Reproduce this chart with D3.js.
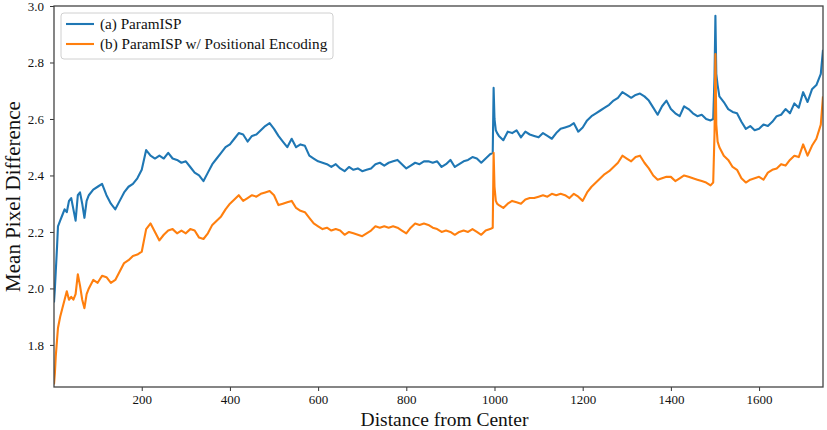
<!DOCTYPE html>
<html>
<head>
<meta charset="utf-8">
<script src="https://cdn.jsdelivr.net/npm/d3@7"></script>
<style>
  html, body { margin: 0; padding: 0; background: #fff; }
  svg { display: block; }
</style>
</head>
<body>
<svg id="chart" width="827" height="430"></svg>
<script>
// ---------- data ----------
const seriesNames = ["(a) ParamISP", "(b) ParamISP w/ Positional Encoding"];
const seriesColors = ["#1f77b4", "#ff7f0e"];

const distance = [
  1,3,5,8,10,15,20,25,30,35,40,45,50,55,60,65,70,75,
  80,90,100,110,120,130,140,150,160,170,180,190,
  200,210,220,230,240,250,260,270,280,290,
  300,310,320,330,340,350,360,370,380,390,
  400,410,420,430,440,450,460,470,480,490,
  500,510,520,530,540,550,560,570,580,590,
  600,610,620,630,640,650,660,670,680,690,
  700,710,720,730,740,750,760,770,780,790,
  800,810,820,830,840,850,860,870,880,890,
  900,910,920,930,940,950,960,970,980,990,
  996,998,1000,1003,1006,
  1010,1020,1030,1040,1050,1060,1070,1080,1090,
  1100,1110,1120,1130,1140,1150,1160,1170,1180,1190,
  1200,1210,1220,1230,1240,1250,1260,1270,1280,1290,
  1300,1310,1320,1330,1340,1350,1360,1370,1380,1390,
  1400,1410,1420,1430,1440,1450,1460,1470,1480,1490,
  1496,1499,1501,1503,1506,
  1510,1520,1530,1540,1550,1560,1570,1580,1590,1600,
  1610,1620,1630,1640,1650,1660,1670,1680,1690,1700,
  1710,1720,1730,1740,1745
];

const paramISP = [
  1.95,2.00,2.06,2.15,2.22,2.24,2.26,2.28,2.27,2.31,2.32,2.28,2.24,2.33,2.34,2.30,2.25,2.31,
  2.33,2.35,2.36,2.37,2.33,2.30,2.28,2.31,2.34,2.36,2.37,2.39,
  2.42,2.49,2.47,2.46,2.47,2.46,2.48,2.46,2.455,2.445,
  2.45,2.43,2.41,2.40,2.38,2.41,2.44,2.46,2.48,2.50,
  2.51,2.53,2.55,2.545,2.52,2.54,2.545,2.56,2.575,2.585,
  2.565,2.54,2.52,2.50,2.53,2.50,2.51,2.505,2.47,2.46,
  2.45,2.445,2.44,2.43,2.44,2.425,2.415,2.43,2.42,2.425,
  2.415,2.42,2.425,2.44,2.445,2.435,2.445,2.45,2.455,2.44,
  2.425,2.435,2.445,2.44,2.45,2.45,2.445,2.45,2.43,2.44,
  2.455,2.43,2.44,2.45,2.455,2.465,2.46,2.445,2.46,2.475,
  2.48,2.71,2.60,2.56,2.55,
  2.54,2.525,2.555,2.55,2.56,2.535,2.555,2.545,2.54,
  2.535,2.55,2.54,2.53,2.55,2.565,2.57,2.575,2.585,2.555,
  2.57,2.595,2.61,2.62,2.63,2.64,2.65,2.665,2.675,2.695,
  2.685,2.675,2.685,2.69,2.68,2.665,2.64,2.615,2.645,2.665,
  2.635,2.62,2.61,2.645,2.635,2.62,2.61,2.615,2.60,2.595,
  2.60,2.75,2.965,2.76,2.72,
  2.68,2.66,2.635,2.625,2.62,2.59,2.565,2.575,2.56,2.565,
  2.58,2.575,2.59,2.61,2.615,2.635,2.62,2.655,2.64,2.695,
  2.66,2.705,2.72,2.76,2.845
];

const paramISPPosEnc = [
  1.66,1.70,1.76,1.82,1.86,1.90,1.93,1.96,1.99,1.96,1.97,1.96,1.98,2.05,2.01,1.96,1.93,1.98,
  2.00,2.03,2.02,2.045,2.04,2.02,2.03,2.06,2.09,2.10,2.115,2.12,
  2.13,2.21,2.23,2.20,2.17,2.19,2.205,2.21,2.195,2.205,
  2.195,2.21,2.205,2.18,2.175,2.195,2.225,2.24,2.255,2.28,
  2.30,2.315,2.33,2.31,2.32,2.33,2.325,2.335,2.34,2.345,
  2.33,2.295,2.30,2.305,2.31,2.285,2.275,2.27,2.25,2.23,
  2.22,2.21,2.215,2.205,2.21,2.205,2.19,2.20,2.195,2.19,
  2.185,2.195,2.205,2.22,2.215,2.22,2.215,2.22,2.215,2.205,
  2.195,2.215,2.23,2.225,2.23,2.225,2.215,2.21,2.20,2.205,
  2.20,2.19,2.20,2.205,2.20,2.21,2.20,2.19,2.205,2.21,
  2.215,2.48,2.36,2.31,2.30,
  2.295,2.285,2.30,2.31,2.305,2.30,2.315,2.32,2.32,
  2.325,2.33,2.325,2.335,2.33,2.335,2.33,2.32,2.335,2.325,
  2.31,2.34,2.36,2.375,2.39,2.405,2.415,2.43,2.445,2.47,
  2.46,2.45,2.465,2.47,2.445,2.425,2.40,2.385,2.39,2.395,
  2.395,2.38,2.39,2.40,2.395,2.39,2.385,2.38,2.375,2.365,
  2.375,2.55,2.83,2.58,2.52,
  2.50,2.47,2.455,2.43,2.42,2.39,2.375,2.385,2.39,2.395,
  2.385,2.41,2.42,2.425,2.44,2.435,2.455,2.47,2.465,2.51,
  2.47,2.505,2.53,2.58,2.68
];

const xTickValues = [200, 400, 600, 800, 1000, 1200, 1400, 1600];
const yTickValues = [1.8, 2.0, 2.2, 2.4, 2.6, 2.8, 3.0];
const xLabel = "Distance from Center";
const yLabel = "Mean Pixel Difference";

// ---------- layout ----------
const svg = d3.select("#chart");
const plot = { left: 54, right: 823, top: 6, bottom: 387 };
const fontFamily = "'Liberation Serif', 'Times New Roman', serif";

const x = d3.scaleLinear().domain([1, 1745]).range([plot.left, plot.right]);
const y = d3.scaleLinear().domain([1.651, 3.0]).range([plot.bottom, plot.top]);

// lines
const allSeries = [paramISP, paramISPPosEnc];
const line = d3.line()
  .x((d, i) => x(distance[i]))
  .y(d => y(d));

svg.append("clipPath").attr("id", "plotclip")
  .append("rect")
  .attr("x", plot.left).attr("y", plot.top)
  .attr("width", plot.right - plot.left).attr("height", plot.bottom - plot.top);

svg.append("g").attr("clip-path", "url(#plotclip)")
  .selectAll("path")
  .data(allSeries)
  .join("path")
  .attr("d", d => line(d))
  .attr("fill", "none")
  .attr("stroke", (d, i) => seriesColors[i])
  .attr("stroke-width", 2.1)
  .attr("stroke-linejoin", "round");

// axes
const xAxis = d3.axisBottom(x).tickValues(xTickValues).tickSize(4).tickPadding(4)
  .tickFormat(d3.format("d"));
const gx = svg.append("g").attr("transform", `translate(0,${plot.bottom})`).call(xAxis);
gx.select(".domain").remove();
gx.selectAll("line").attr("stroke", "#333").attr("stroke-width", 1);
gx.selectAll("text").attr("font-family", fontFamily).attr("font-size", 13).attr("fill", "#111");

const yAxis = d3.axisLeft(y).tickValues(yTickValues).tickSize(4).tickPadding(6)
  .tickFormat(d3.format(".1f"));
const gy = svg.append("g").attr("transform", `translate(${plot.left},0)`).call(yAxis);
gy.select(".domain").remove();
gy.selectAll("line").attr("stroke", "#333").attr("stroke-width", 1);
gy.selectAll("text").attr("font-family", fontFamily).attr("font-size", 13).attr("fill", "#111");

// frame
svg.append("rect")
  .attr("x", plot.left).attr("y", plot.top)
  .attr("width", plot.right - plot.left).attr("height", plot.bottom - plot.top)
  .attr("fill", "none").attr("stroke", "#444").attr("stroke-width", 1.3);

// axis labels
svg.append("text")
  .attr("x", (plot.left + plot.right) / 2 + 6)
  .attr("y", 426)
  .attr("text-anchor", "middle")
  .attr("font-family", fontFamily).attr("font-size", 19.5).attr("fill", "#111")
  .text(xLabel);

svg.append("text")
  .attr("transform", `translate(20,${(plot.top + plot.bottom) / 2}) rotate(-90)`)
  .attr("text-anchor", "middle")
  .attr("font-family", fontFamily).attr("font-size", 21).attr("fill", "#111")
  .text(yLabel);

// legend
const lg = svg.append("g");
lg.append("rect")
  .attr("x", 61).attr("y", 13).attr("width", 272).attr("height", 46).attr("rx", 3)
  .attr("fill", "#fff").attr("fill-opacity", 0.85)
  .attr("stroke", "#d0d0d0").attr("stroke-width", 1);
seriesNames.forEach((name, i) => {
  const yy = 24 + i * 20;
  lg.append("line").attr("x1", 66).attr("x2", 94).attr("y1", yy).attr("y2", yy)
    .attr("stroke", seriesColors[i]).attr("stroke-width", 2.1);
  lg.append("text").attr("x", 100).attr("y", yy).attr("dy", "0.35em")
    .attr("font-family", fontFamily).attr("font-size", 15.2).attr("fill", "#111")
    .text(name);
});
</script>
</body>
</html>
